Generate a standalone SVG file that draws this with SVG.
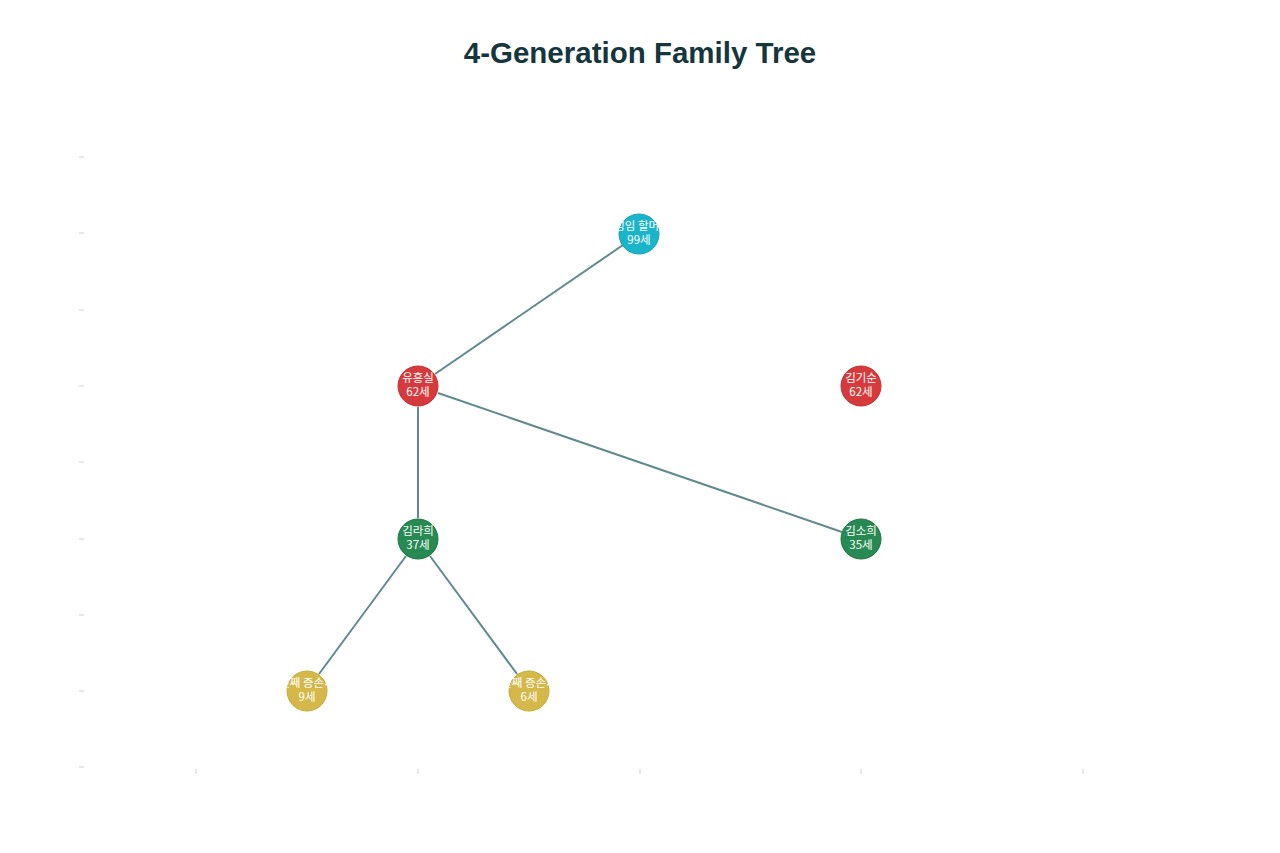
<svg xmlns="http://www.w3.org/2000/svg" width="1280" height="853" viewBox="0 0 1280 853">
<style>
.tick{stroke:#d0d0d0;stroke-width:1}
.edge{stroke:#5f8a8f;stroke-width:2;fill:none}
.lbl{font-family:"Noto Sans CJK KR","Noto Sans",sans-serif;font-size:11.5px;fill:#ffffff;text-anchor:middle}
.title{font-family:"Liberation Sans",Arial,sans-serif;font-weight:bold;font-size:29.5px;fill:#15363d;text-anchor:middle}
.c1{fill:#1bb5cb;stroke:#16a3b8}
.c2{fill:#d63a3c;stroke:#c23033}
.c3{fill:#278a52;stroke:#1f7444}
.c4{fill:#d4b84a;stroke:#c7ab3e}
</style>
<rect width="1280" height="853" fill="#ffffff"/>
<text class="title" x="640" y="63">4-Generation Family Tree</text>
<g id="axes">
<line class="tick" x1="79" y1="157" x2="84" y2="157"/>
<line class="tick" x1="79" y1="233" x2="84" y2="233"/>
<line class="tick" x1="79" y1="310" x2="84" y2="310"/>
<line class="tick" x1="79" y1="386" x2="84" y2="386"/>
<line class="tick" x1="79" y1="462" x2="84" y2="462"/>
<line class="tick" x1="79" y1="539" x2="84" y2="539"/>
<line class="tick" x1="79" y1="615" x2="84" y2="615"/>
<line class="tick" x1="79" y1="691" x2="84" y2="691"/>
<line class="tick" x1="79" y1="767" x2="84" y2="767"/>
<line class="tick" x1="196" y1="769" x2="196" y2="774"/>
<line class="tick" x1="418" y1="769" x2="418" y2="774"/>
<line class="tick" x1="640" y1="769" x2="640" y2="774"/>
<line class="tick" x1="861" y1="769" x2="861" y2="774"/>
<line class="tick" x1="1083" y1="769" x2="1083" y2="774"/>
</g>
<g id="connectors">
<line class="edge" x1="623" y1="245" x2="435" y2="374"/>
<line class="edge" x1="418" y1="407" x2="418" y2="518"/>
<line class="edge" x1="438" y1="393" x2="842" y2="532"/>
<line class="edge" x1="406" y1="556" x2="319" y2="674"/>
<line class="edge" x1="430" y1="556" x2="517" y2="674"/>
</g>
<g id="n1"><circle class="c1" cx="639" cy="234" r="20"/><text class="lbl" x="642" y="230">성임 할머니</text><text class="lbl" x="639" y="244">99세</text></g>
<g id="n2"><circle class="c2" cx="418" cy="386" r="20"/><text class="lbl" x="418" y="382">유흥실</text><text class="lbl" x="418" y="396">62세</text></g>
<g id="n3"><circle class="c2" cx="861" cy="386" r="20"/><text class="lbl" x="861" y="382">김기순</text><text class="lbl" x="861" y="396">62세</text></g>
<g id="n4"><circle class="c3" cx="418" cy="539" r="20"/><text class="lbl" x="418" y="535">김라희</text><text class="lbl" x="418" y="549">37세</text></g>
<g id="n5"><circle class="c3" cx="861" cy="539" r="20"/><text class="lbl" x="861" y="535">김소희</text><text class="lbl" x="861" y="549">35세</text></g>
<g id="n6"><circle class="c4" cx="307" cy="691" r="20"/><text class="lbl" x="307" y="687">첫째 증손자</text><text class="lbl" x="307" y="701">9세</text></g>
<g id="n7"><circle class="c4" cx="529" cy="691" r="20"/><text class="lbl" x="529" y="687">둘째 증손자</text><text class="lbl" x="529" y="701">6세</text></g>
</svg>
